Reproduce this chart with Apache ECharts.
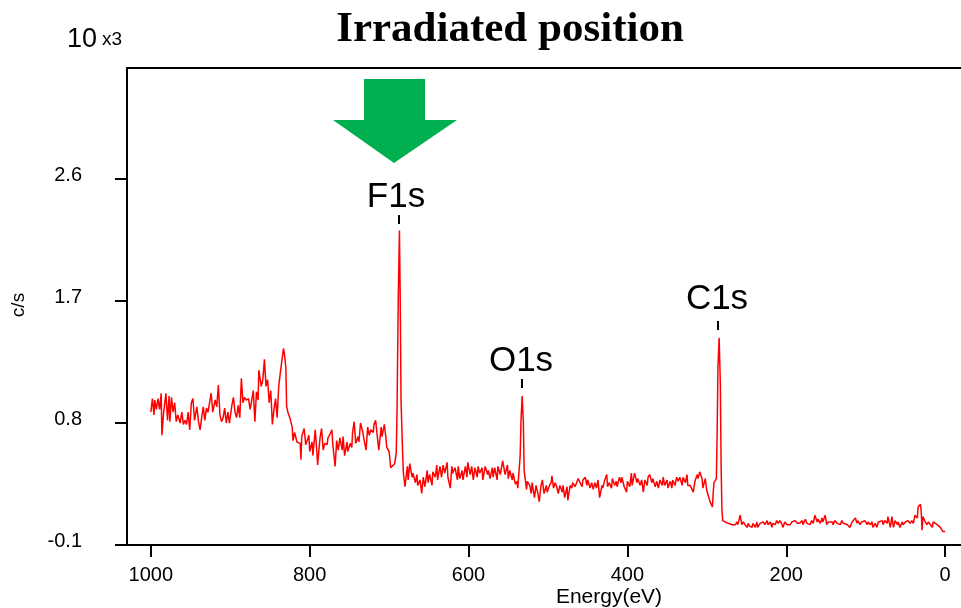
<!DOCTYPE html>
<html>
<head>
<meta charset="utf-8">
<script src="https://cdn.jsdelivr.net/npm/echarts@6/dist/echarts.min.js"></script>
<style>html,body{margin:0;padding:0;background:#fff;}#c{width:961px;height:608px;}</style>
</head>
<body>
<div id="c"></div>
<script>
// Binding energy (eV), descending as recorded
const energy = [
1000,998,996,995,993,991,989,987,986,984,981,979,977,976,974,972,970,968,966,963,
961,959,957,955,953,951,949,947,945,942,940,938,936,934,932,930,928,926,924,922,
919,917,915,913,911,909,907,905,903,901,898,896,894,892,890,888,886,884,882,880,
877,875,873,871,869,867,865,864,861,859,857,855,853,851,849,847,845,843,841,839,
837,835,833,832,830,829,
827,825,822,821,819,816,815,812,811,810,807,805,804,801,800,797,796,793,791,790,
787,785,783,781,778,777,775,772,771,768,766,764,762,759,758,756,753,752,749,747,
746,744,742,739,738,736,733,732,729,727,725,723,720,719,717,715,713,710,709,706,704,
703,700,698,696,693,691,690,688.5,687,686,685,683,682,680,677,676,674,671,670,667,
665,664,661,659,657,655,652,651,649,646,645,642,640,639,636,634,632,630,627,626,
623,621,620,617,614,613,611,608,607,604,602,601,598,596,594,592,589,588,586,583,
582,579,576,575,573,570,569,567,564,563,
560,558,557,554,551,550,548,545,544,541,539,538,535,534,532.5,531,530,527,526,523,
521,520,517,515,513,511,509,507,505,502,501,498,496,495,493,491,489,487,485,482,
481,479,476,475,472,470,469,466,464,462,460,457,456,453,451,450,447,445,443,441,
439,437,435,432,431,429,426,425,423,420,419,416,414,413,410,408,407,404,401,400,
397,395,394,391,388,387,384,382,380,378,375,374,372,369,368,365,363,361,359,356,
355,353,350,349,346,344,343,340,338,336,334,331,330,327,325,324,321,319,317,315,
312,311,309,306,305,302,300,299,296,293,292,291,288,287,286,284.5,283,282,281,280,
277,275,273,271,268,267,264,262,261,258,256,254,252,249,248,246,243,242,239,237,
236,233,231,229,227,224,223,220,218,217,214,212,210,208,206,204,202,199,198,195,
193,191,189,186,185,183,180,179,176,174,173,170,168,166,164,161,160,157,155,154,
151,149,147,145,142,141,139,136,135,132,130,128,126,123,122,120,117,116,113,111,
110,107,105,103,101,98,97,94,92,91,88,86,84,82,79,78,76,73,72,69,
67,65,63,60,59,57,54,53,50,48,47,44,42,40,38,35,34,31,30,29,
28,25,23,21,19,16,15,13,10,9,6,4,3,0
];
// Intensity (c/s, x10^3)
const counts = [
0.88,0.98,0.86,0.97,0.90,0.98,0.90,1.02,0.71,0.87,1.02,0.82,1.00,0.81,0.99,0.88,0.95,0.81,0.86,0.80,
0.88,0.79,0.82,0.79,0.88,0.75,0.95,0.98,0.82,0.92,0.81,0.75,0.84,0.92,0.82,0.91,0.88,0.95,1.02,0.88,
0.97,0.92,1.08,0.86,0.81,0.84,0.91,0.80,0.88,0.80,0.93,0.99,0.88,0.84,0.93,0.84,1.13,0.95,0.99,0.97,
0.98,0.90,0.97,1.04,0.81,1.03,0.97,1.19,1.07,1.12,1.27,1.07,1.12,0.95,1.04,0.79,0.90,0.98,0.84,1.07,
1.17,1.18,1.35,1.32,1.21,0.92,
0.87,0.84,0.77,0.67,0.73,0.66,0.67,0.65,0.53,0.70,0.76,0.64,0.65,0.71,0.59,0.66,0.56,0.75,0.59,0.49,
0.69,0.76,0.60,0.65,0.64,0.69,0.71,0.75,0.65,0.48,0.67,0.60,0.69,0.60,0.70,0.56,0.66,0.59,0.65,0.62,
0.73,0.81,0.65,0.70,0.66,0.80,0.73,0.69,0.60,0.77,0.71,0.75,0.73,0.79,0.82,0.81,0.60,0.77,0.70,0.79,0.69,
0.62,0.59,0.47,0.47,0.50,0.58,0.90,1.71,2.22,1.71,0.97,0.58,0.43,0.33,0.48,0.38,0.50,0.40,0.43,0.36,
0.42,0.34,0.38,0.28,0.40,0.33,0.45,0.36,0.42,0.34,0.44,0.40,0.49,0.38,0.48,0.40,0.49,0.43,0.51,0.40,
0.32,0.48,0.43,0.47,0.38,0.48,0.39,0.45,0.38,0.48,0.40,0.51,0.42,0.48,0.38,0.47,0.40,0.48,0.43,0.47,
0.38,0.48,0.42,0.45,0.39,0.47,0.40,0.47,0.38,0.48,
0.42,0.49,0.52,0.42,0.49,0.39,0.45,0.38,0.43,0.35,0.37,0.32,0.56,0.81,1.00,0.81,0.45,0.31,0.37,0.34,
0.28,0.36,0.25,0.34,0.29,0.22,0.33,0.38,0.28,0.34,0.29,0.34,0.36,0.41,0.32,0.36,0.33,0.28,0.34,0.29,
0.34,0.25,0.33,0.23,0.34,0.32,0.36,0.33,0.36,0.39,0.40,0.33,0.38,0.40,0.34,0.38,0.32,0.36,0.31,0.36,
0.32,0.38,0.25,0.34,0.32,0.37,0.42,0.33,0.36,0.32,0.39,0.34,0.37,0.33,0.40,0.36,0.40,0.33,0.29,0.37,
0.33,0.43,0.34,0.43,0.36,0.39,0.34,0.38,0.29,0.38,0.34,0.40,0.42,0.36,0.39,0.33,0.37,0.32,0.38,0.34,
0.40,0.34,0.38,0.32,0.37,0.32,0.38,0.34,0.40,0.37,0.40,0.34,0.40,0.36,0.42,0.34,0.34,0.34,0.29,0.37,
0.42,0.39,0.44,0.39,0.32,0.39,0.30,0.29,0.22,0.18,0.28,0.36,0.39,0.73,1.21,1.43,1.09,0.48,0.16,0.08,
0.07,0.08,0.06,0.06,0.05,0.06,0.05,0.07,0.05,0.12,0.05,0.07,0.05,0.03,0.06,0.04,0.03,0.06,0.03,0.07,
0.03,0.06,0.05,0.07,0.05,0.08,0.05,0.07,0.03,0.06,0.05,0.08,0.06,0.08,0.06,0.03,0.07,0.05,0.06,0.05,
0.07,0.06,0.08,0.06,0.07,0.06,0.08,0.05,0.09,0.06,0.07,0.05,0.08,0.06,0.12,0.07,0.09,0.06,0.10,0.07,
0.12,0.05,0.07,0.06,0.07,0.05,0.08,0.06,0.07,0.05,0.08,0.06,0.07,0.05,0.06,0.03,0.07,0.06,0.10,0.06,
0.08,0.05,0.07,0.06,0.08,0.05,0.07,0.05,0.07,0.03,0.06,0.03,0.07,0.06,0.08,0.05,0.08,0.06,0.11,0.03,
0.11,0.03,0.08,0.05,0.07,0.03,0.07,0.05,0.07,0.06,0.08,0.06,0.08,0.06,0.12,0.10,0.18,0.20,0.14,0.01,
0.11,0.07,0.05,0.07,0.06,0.03,0.07,0.06,0.05,0.06,0.03,0.02,0.00,0.00
];
const xTicks = [0, 200, 400, 600, 800, 1000];
const yTicks = [-0.1, 0.8, 1.7, 2.6];
const peakNames = ['F1s', 'O1s', 'C1s'];

const chart = echarts.init(document.getElementById('c'), null, {renderer: 'canvas'});
const data = energy.map((e, i) => [e, counts[i]]);
const SANS = "'Liberation Sans', Arial, sans-serif";

chart.setOption({
  animation: false,
  backgroundColor: '#ffffff',
  grid: {left: 127, right: 0, top: 68, bottom: 63, containLabel: false, outerBoundsMode: 'none'},
  xAxis: [{
    type: 'value', inverse: true, min: -20, max: 1030,
    splitLine: {show: false},
    axisLine: {show: true, onZero: false, lineStyle: {color: '#000', width: 2}},
    axisTick: {show: true, inside: false, length: 12, lineStyle: {color: '#000', width: 2}, customValues: xTicks},
    axisLabel: {show: true, customValues: xTicks, margin: 20, color: '#000', fontSize: 20, fontFamily: SANS,
      formatter: v => String(v)},
  }, {
    type: 'value', position: 'top', inverse: true, min: -20, max: 1030,
    splitLine: {show: false},
    axisLine: {show: true, onZero: false, lineStyle: {color: '#000', width: 2}},
    axisTick: {show: false}, axisLabel: {show: false}
  }],
  yAxis: {
    type: 'value', min: -0.1, max: 3.42,
    splitLine: {show: false},
    axisLine: {show: true, onZero: false, lineStyle: {color: '#000', width: 2}},
    axisTick: {show: true, inside: false, length: 12, lineStyle: {color: '#000', width: 2}, customValues: yTicks},
    axisLabel: {show: true, customValues: yTicks, margin: 45, color: '#000', fontSize: 20, fontFamily: SANS,
      verticalAlign: 'bottom', lineHeight: 8, formatter: v => v.toFixed(1)}
  },
  series: [{
    type: 'line', data: data, xAxisIndex: 0, yAxisIndex: 0,
    showSymbol: false, symbol: 'none',
    lineStyle: {color: '#ff0000', width: 1.5},
    silent: true
  }],
  graphic: [
    {type: 'text', x: 510, y: 30, style: {text: 'Irradiated position', font: "bold 43px 'Liberation Serif', 'Times New Roman', serif", fill: '#000', align: 'center', verticalAlign: 'middle'}},
    {type: 'text', x: 67, y: 40, style: {text: '10', font: "27px " + SANS, fill: '#000', align: 'left', verticalAlign: 'middle'}},
    {type: 'text', x: 102, y: 40, style: {text: 'x3', font: "19px " + SANS, fill: '#000', align: 'left', verticalAlign: 'middle'}},
    {type: 'text', x: 19, y: 305, rotation: Math.PI / 2, style: {text: 'c/s', font: "19px " + SANS, fill: '#000', align: 'center', verticalAlign: 'middle'}},
    {type: 'text', x: 609, y: 597, style: {text: 'Energy(eV)', font: "21px " + SANS, fill: '#000', align: 'center', verticalAlign: 'middle'}},
    {type: 'polygon', shape: {points: [[364,79],[425,79],[425,120],[457,120],[394,163],[333,120],[364,120]]}, style: {fill: '#00b050'}},
    {type: 'text', x: 396, y: 197, style: {text: peakNames[0], font: "35px " + SANS, fill: '#000', align: 'center', verticalAlign: 'middle'}},
    {type: 'text', x: 521, y: 361, style: {text: peakNames[1], font: "35px " + SANS, fill: '#000', align: 'center', verticalAlign: 'middle'}},
    {type: 'text', x: 717, y: 299, style: {text: peakNames[2], font: "35px " + SANS, fill: '#000', align: 'center', verticalAlign: 'middle'}},
    {type: 'line', shape: {x1: 399, y1: 215, x2: 399, y2: 224}, style: {stroke: '#000', lineWidth: 2}},
    {type: 'line', shape: {x1: 522, y1: 379, x2: 522, y2: 388}, style: {stroke: '#000', lineWidth: 2}},
    {type: 'line', shape: {x1: 718, y1: 321, x2: 718, y2: 330}, style: {stroke: '#000', lineWidth: 2}}
  ]
});
</script>
</body>
</html>
